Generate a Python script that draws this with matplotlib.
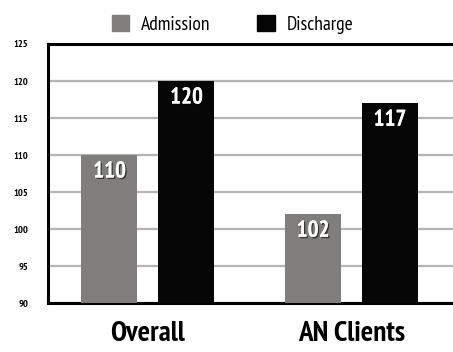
import matplotlib
matplotlib.use('Agg')
import matplotlib.pyplot as plt
import matplotlib.patheffects as pe
from matplotlib.patches import Patch
import numpy as np

plt.rcParams['font.family'] = ['PT Sans Narrow', 'DejaVu Sans']

categories = ['Overall', 'AN Clients']
admission = [110, 102]
discharge = [120, 117]
yticks = [90, 95, 100, 105, 110, 115, 120, 125]

gray = '#7f7e7b'
black = '#060606'

fig = plt.figure(figsize=(4.53, 3.52), dpi=100)
ax = fig.add_axes([0.106, 0.139, 0.894, 0.736])

x = np.arange(len(categories))
off = 0.189
w = 0.275
ax.bar(x - off, admission, w, bottom=0, color=gray, zorder=3)
ax.bar(x + off, discharge, w, bottom=0, color=black, zorder=3)

ax.set_ylim(90, 125)
ax.set_xlim(-0.491, 1.499)
ax.set_yticks(yticks)
ax.set_yticklabels([str(t) for t in yticks], fontsize=7.5, fontweight='bold')
ax.tick_params(axis='y', length=0, pad=14)
ax.set_xticks(x)
ax.set_xticklabels(categories, fontsize=21, fontweight='bold')
ax.tick_params(axis='x', length=0, pad=13)
ax.yaxis.grid(True, color='#b5b5b5', linewidth=1.6, zorder=0)
ax.set_axisbelow(True)

for s in ['left', 'top', 'bottom']:
    ax.spines[s].set_linewidth(2.2)
    ax.spines[s].set_color('black')
ax.spines['right'].set_visible(False)

# value labels sit just inside the top of each bar
shadow = [pe.withSimplePatchShadow(offset=(1, -1), shadow_rgbFace='black', alpha=0.6), pe.Normal()]
for xs, vals, col in [(x - off, admission, gray), (x + off, discharge, black)]:
    for xi, v in zip(xs, vals):
        ax.text(xi, v - 2.3, str(v), ha='center', va='center', color='white',
                fontsize=16.5, fontweight='bold', zorder=4, path_effects=shadow,
                bbox=dict(boxstyle='square,pad=0.15', fc=col, ec='none'))

handles = [Patch(color=gray, label='Admission'), Patch(color=black, label='Discharge')]
fig.legend(handles=handles, loc='center', bbox_to_anchor=(0.513, 0.93), ncol=2,
           frameon=False, fontsize=14, handlelength=0.9, handleheight=0.9,
           columnspacing=2.4, handletextpad=0.6)

fig.savefig('out.png', dpi=100)
